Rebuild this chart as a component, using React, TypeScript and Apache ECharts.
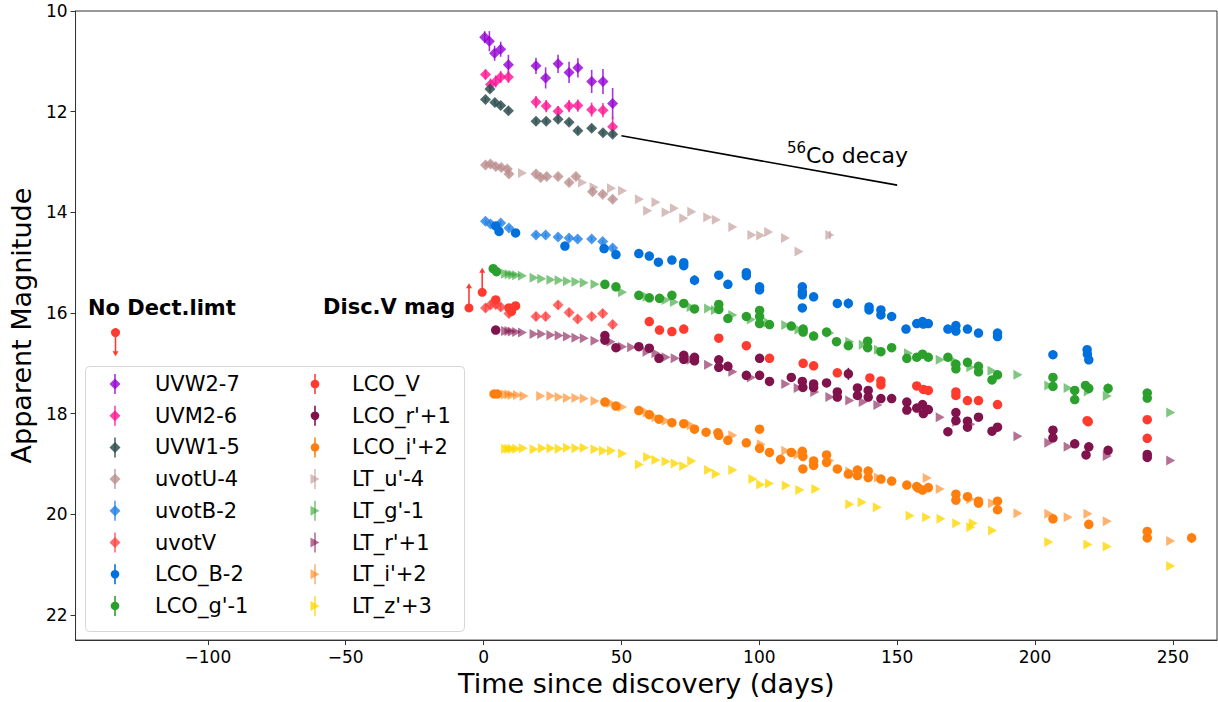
import React, { useEffect, useRef } from "react";
import * as echarts from "echarts";

// ---------- axis ticks ----------
const xTicks = [-100, -50, 0, 50, 100, 150, 200, 250];
const yTicks = [10, 12, 14, 16, 18, 20, 22];

// ---------- photometry: [days since discovery, magnitude, error?] ----------
const uvw2 = [[0.4,10.52,0.12],[2.1,10.6,0.2],[4.0,10.84,0.15],[6.2,10.76,0.15],[9.0,11.07,0.2],[19.0,11.09,0.16],[22.5,11.33,0.21],[27.0,11.05,0.18],[31.0,11.22,0.21],[34.2,11.13,0.19],[39.2,11.4,0.23],[43.3,11.4,0.25],[46.8,11.84,0.31]];
const uvm2 = [[0.7,11.26,0.1],[2.5,11.46,0.12],[4.4,11.4,0.12],[6.2,11.31,0.12],[9.0,11.31,0.12],[19.0,11.81,0.12],[22.7,11.89,0.12],[27.0,11.99,0.1],[31.0,11.89,0.12],[34.2,11.88,0.12],[39.2,11.96,0.14],[43.3,11.97,0.14],[46.8,12.3,0.2]];
const uvw1 = [[0.7,11.76,0.05],[2.3,11.55,0.06],[4.1,11.82,0.05],[6.2,11.88,0.05],[9.0,11.98,0.05],[19.0,12.19,0.05],[22.7,12.19,0.05],[27.0,12.15,0.05],[31.0,12.21,0.05],[34.2,12.38,0.05],[39.2,12.33,0.05],[43.3,12.42,0.05],[46.8,12.45,0.05]];
const uvotU = [[0.7,13.06,0.05],[2.5,13.04,0.05],[4.4,13.09,0.05],[6.4,13.11,0.05],[8.6,13.14,0.05],[9.2,13.24,0.05],[19.0,13.24,0.05],[20.7,13.31,0.05],[22.9,13.29,0.05],[27.0,13.29,0.05],[31.0,13.41,0.05],[33.5,13.29,0.05],[39.5,13.59,0.05],[43.2,13.64,0.05],[46.8,13.74,0.05]];
const uvotB = [[0.7,14.18,0.04],[2.5,14.23,0.04],[6.2,14.21,0.04],[9.2,14.31,0.04],[19.0,14.45,0.04],[22.5,14.45,0.04],[27.0,14.49,0.04],[31.0,14.51,0.04],[34.1,14.53,0.04],[39.2,14.53,0.04],[43.2,14.58,0.04],[46.8,14.71,0.05]];
const uvotV = [[0.7,15.9,0.08],[2.5,15.84,0.08],[4.4,15.83,0.08],[6.2,15.88,0.08],[9.2,16.01,0.08],[19.0,16.07,0.08],[22.5,16.07,0.08],[27.0,15.84,0.08],[31.0,15.99,0.08],[34.1,16.12,0.08],[39.2,16.07,0.08],[43.2,16.01,0.08],[46.8,16.23,0.08]];

const lcoB = [[4.4,14.27],[5.6,14.38],[11.6,14.41],[29.5,14.67],[43.7,14.72],[48.0,14.84],[56.3,14.82],[60.1,14.87],[63.4,14.99],[68.3,14.95],[72.6,15.0],[72.6,15.06],[76.5,15.35,0.1],[85.3,15.25],[88.6,15.43],[95.3,15.2],[95.3,15.26],[100.1,15.48,0.06],[100.1,15.54],[115.6,15.48],[115.6,15.58],[115.6,15.64],[115.6,15.9],[119.7,15.68],[128.3,15.81],[132.3,15.81,0.1],[139.8,15.88],[139.8,15.94],[144.1,15.94],[144.1,16.04],[148.0,16.07],[153.2,16.32],[157.1,16.21],[159.2,16.17],[159.5,16.22],[161.3,16.21],[168.4,16.32],[171.3,16.25],[171.3,16.36],[175.5,16.32],[179.5,16.4],[186.4,16.4],[186.4,16.47],[206.5,16.83,0.06],[218.9,16.73],[219.0,16.82],[219.5,16.93,0.05]];
const lcoG = [[3.5,15.12],[4.7,15.18],[44.0,15.43],[48.0,15.48],[56.3,15.65],[60.1,15.7],[63.8,15.71],[68.3,15.65],[72.6,15.81],[76.5,15.92],[85.3,15.83],[85.3,15.93],[88.6,16.11],[95.3,16.07],[100.1,15.95],[100.1,16.07],[100.1,16.21],[103.7,16.23],[111.6,16.26],[115.9,16.32],[115.9,16.38],[119.7,16.46],[124.4,16.38],[128.0,16.57],[132.3,16.65],[139.3,16.56],[139.3,16.69],[144.1,16.77],[148.0,16.69],[153.5,16.9],[157.1,16.88],[159.2,16.82],[161.3,16.88],[168.4,16.88],[171.3,17.02],[171.3,17.11],[175.5,16.98],[179.5,17.06],[179.5,17.17],[184.4,17.33],[186.4,17.23],[206.5,17.28],[206.5,17.46],[214.4,17.54,0.06],[214.4,17.72],[218.3,17.44],[219.5,17.5],[226.5,17.5,0.1],[240.7,17.59],[240.7,17.69]];
const lcoV = [[4.4,15.74],[9.2,15.9],[10.1,15.97],[11.6,15.86],[60.1,16.17],[63.8,16.34],[68.3,16.37],[72.6,16.32],[85.3,16.5],[95.3,16.65],[103.7,16.9],[115.9,17.0],[119.7,17.05],[128.3,17.19],[140.1,17.29],[144.1,17.35],[144.1,17.43],[157.1,17.45],[159.5,17.52],[161.3,17.54],[171.3,17.57],[171.3,17.64],[175.5,17.74],[179.5,17.74],[186.4,17.82],[218.9,18.14],[219.3,18.16],[240.7,18.12],[240.7,18.49]];
const lcoR = [[4.4,16.34],[44.0,16.45],[44.0,16.54],[48.0,16.69],[56.3,16.67],[60.1,16.7],[63.6,16.9],[72.6,16.84],[72.6,16.92],[76.5,16.88],[76.5,16.95],[85.3,16.93],[85.3,17.08],[88.6,17.06],[95.3,17.24],[100.1,16.9],[100.1,17.24],[103.7,17.36],[111.6,17.28],[115.6,17.36],[115.8,17.48],[119.7,17.41],[119.7,17.48],[124.4,17.39],[128.3,17.57],[128.3,17.67],[132.3,17.21,0.12],[135.6,17.49,0.08],[135.6,17.64],[139.5,17.54],[139.5,17.67],[144.1,17.7],[148.0,17.7],[153.5,17.77],[153.5,17.93],[157.1,17.89],[159.2,17.82],[159.5,18.0],[161.3,17.92],[168.4,18.36],[171.3,17.98],[171.3,18.14],[175.5,18.15],[175.5,18.27],[179.5,18.07],[184.4,18.35],[186.4,18.27],[206.5,18.33],[206.5,18.48],[214.4,18.6],[218.5,18.82],[219.5,18.66],[226.5,18.73],[240.7,18.81],[240.7,18.87]];
const lcoI = [[3.8,17.61],[5.0,17.61],[44.0,17.77],[48.0,17.85],[56.3,17.94],[60.1,18.02],[63.6,18.11],[68.3,18.18],[72.6,18.2],[76.5,18.31],[80.7,18.37],[85.0,18.38],[85.3,18.43],[88.6,18.53],[95.3,18.58],[100.1,18.31],[100.1,18.69],[103.7,18.77],[107.7,18.91,0.1],[111.6,18.77],[115.6,18.75],[115.8,18.85],[115.8,19.1],[119.7,18.94],[119.7,19.03],[124.4,18.82],[124.4,18.97],[128.3,19.1],[132.3,19.2],[135.6,19.12],[135.6,19.23],[139.5,19.14],[139.5,19.27],[144.1,19.3],[148.0,19.34],[153.5,19.42],[157.1,19.45],[157.7,19.48],[159.2,19.52],[161.3,19.47],[171.3,19.6],[171.3,19.72],[175.5,19.65],[179.5,19.74],[179.5,19.78],[186.4,19.74],[186.4,19.91],[206.5,20.09],[219.5,20.2],[240.7,20.34],[240.7,20.47],[256.8,20.47,0.1]];

const ltU = [[14.1,13.22],[35.9,13.41],[40.1,13.5],[46.4,13.52],[50.4,13.57],[56.5,13.74],[59.5,13.97],[62.5,13.8],[66.2,14.0],[69.2,13.92],[72.6,14.12],[75.5,13.99],[81.3,14.1],[84.4,14.15],[90.4,14.29],[97.3,14.45],[100.5,14.46],[103.4,14.39],[109.5,14.51],[114.4,14.78],[125.6,14.45,0.08]];
const ltG = [[8.0,15.22],[9.3,15.23],[10.6,15.24],[12.0,15.25],[14.1,15.26],[18.3,15.3],[21.1,15.32],[24.4,15.34],[27.4,15.35],[30.4,15.37],[33.5,15.38],[36.5,15.4],[40.4,15.43],[50.4,15.59],[59.3,15.68],[66.2,15.74],[69.2,15.78],[75.3,15.88],[81.6,15.91],[84.1,15.94],[90.4,16.04],[97.1,16.13],[103.2,16.19],[109.6,16.24],[114.4,16.33],[125.6,16.4],[132.8,16.57],[137.7,16.63],[143.2,16.73],[154.1,16.8],[165.6,16.93],[171.0,16.96],[176.7,17.08],[184.4,17.15],[193.8,17.23],[205.0,17.44],[212.0,17.49],[219.3,17.56],[226.2,17.65],[249.2,17.98]];
const ltR = [[8.0,16.36],[9.2,16.36],[10.4,16.37],[12.0,16.38],[14.1,16.39],[18.3,16.42],[21.1,16.42],[24.4,16.44],[27.4,16.45],[30.4,16.47],[33.5,16.49],[36.5,16.5],[40.4,16.55],[46.2,16.57],[50.4,16.67],[53.7,16.68],[59.3,16.77],[62.5,16.8],[66.2,16.88],[69.5,16.9],[75.3,16.93],[81.6,17.03],[90.4,17.17],[97.1,17.28],[109.6,17.41],[114.1,17.49],[120.1,17.57],[125.6,17.67],[132.8,17.74],[137.7,17.77],[143.0,17.83],[154.1,17.92],[165.6,18.07],[171.6,18.16],[176.7,18.21],[193.8,18.45],[205.0,18.58],[212.0,18.66],[226.2,18.84],[249.2,18.93]];
const ltI = [[8.0,17.62],[9.2,17.62],[10.4,17.63],[12.3,17.63],[14.7,17.65],[20.7,17.65],[24.4,17.65],[27.4,17.67],[30.4,17.69],[33.5,17.69],[36.5,17.7],[40.4,17.75],[46.2,17.79],[50.4,17.87],[59.3,17.98],[62.5,18.07],[66.2,18.14],[75.3,18.23],[90.4,18.43],[100.7,18.61],[109.6,18.74],[114.1,18.81],[125.6,18.93],[132.8,19.15],[143.2,19.27],[160.9,19.28],[165.6,19.5],[176.7,19.7],[184.6,19.78],[193.8,19.98],[205.0,19.99],[212.0,20.06],[219.2,19.99],[226.2,20.14],[249.2,20.53]];
const ltZ = [[8.0,18.7],[9.2,18.7],[10.4,18.7],[12.0,18.7],[14.4,18.69],[18.3,18.71],[21.3,18.69],[24.4,18.69],[27.4,18.7],[30.4,18.68],[33.5,18.69],[36.5,18.68],[40.4,18.71],[43.5,18.74],[46.4,18.74],[50.4,18.79],[56.5,19.01],[59.5,18.86],[62.5,18.92],[66.2,18.95],[69.5,18.99],[72.6,19.04],[75.5,18.94],[81.6,19.12],[84.4,19.2],[90.4,19.12],[97.7,19.3],[100.5,19.41],[103.7,19.39],[109.8,19.43],[114.7,19.52],[120.5,19.5],[132.8,19.8],[137.3,19.76],[142.8,19.86],[154.7,20.03],[160.7,20.06],[165.9,20.09],[171.6,20.18],[177.6,20.18],[176.7,20.26],[184.6,20.32],[205.0,20.55],[219.2,20.6],[226.2,20.64],[249.2,21.03]];

// limits: [day, magnitude, arrow tip magnitude]
const noDetectLimit = [[-133.5, 16.39, 16.86]];
const discoveryV = [[-5.3, 15.9, 15.41], [-0.5, 15.59, 15.1]];

// 56Co decay slope guide (0.98 mag / 100 d)
const coDecay = [[50, 12.48], [150, 13.46]];

// ---------- band styling ----------
type Shape = "diamond" | "circle" | "tri";
const bands: { name: string; data: number[][]; color: string; alpha: number; shape: Shape }[] = [
  { name: "UVW2-7", data: uvw2, color: "#9400d3", alpha: 0.8, shape: "diamond" },
  { name: "UVM2-6", data: uvm2, color: "#ff1493", alpha: 0.8, shape: "diamond" },
  { name: "UVW1-5", data: uvw1, color: "#2f4f4f", alpha: 0.85, shape: "diamond" },
  { name: "uvotU-4", data: uvotU, color: "#bc8f8f", alpha: 0.8, shape: "diamond" },
  { name: "uvotB-2", data: uvotB, color: "#1e7fe6", alpha: 0.8, shape: "diamond" },
  { name: "uvotV", data: uvotV, color: "#ff3b3b", alpha: 0.75, shape: "diamond" },
  { name: "LCO_B-2", data: lcoB, color: "#0070dd", alpha: 1, shape: "circle" },
  { name: "LCO_g'-1", data: lcoG, color: "#2ca02c", alpha: 1, shape: "circle" },
  { name: "LCO_V", data: lcoV, color: "#ff3b30", alpha: 1, shape: "circle" },
  { name: "LCO_r'+1", data: lcoR, color: "#80124c", alpha: 1, shape: "circle" },
  { name: "LCO_i'+2", data: lcoI, color: "#ff7f0e", alpha: 1, shape: "circle" },
  { name: "LT_u'-4", data: ltU, color: "#bc8f8f", alpha: 0.6, shape: "tri" },
  { name: "LT_g'-1", data: ltG, color: "#2ca02c", alpha: 0.6, shape: "tri" },
  { name: "LT_r'+1", data: ltR, color: "#80124c", alpha: 0.6, shape: "tri" },
  { name: "LT_i'+2", data: ltI, color: "#ff7f0e", alpha: 0.6, shape: "tri" },
  { name: "LT_z'+3", data: ltZ, color: "#ffd700", alpha: 0.8, shape: "tri" },
];

const FONT = "DejaVu Sans";
const TRI = "path://M0,0L10,5L0,10Z";
const limitColor = "#ff3b30";

function symbolFor(shape: Shape) {
  if (shape === "diamond") return { symbol: "diamond", symbolSize: 11 };
  if (shape === "circle") return { symbol: "circle", symbolSize: 9.5 };
  return { symbol: TRI, symbolSize: [9, 10] };
}

function errorSeries(color: string, alpha: number, data: number[][]) {
  return {
    type: "custom",
    dimensions: ["x", "y", "e"],
    data: data.filter((d) => d.length > 2),
    encode: { x: 0, y: 1 },
    silent: true,
    z: 2,
    renderItem: (_p: any, api: any) => {
      const x = api.value(0);
      const y = api.value(1);
      const e = api.value(2);
      const a = api.coord([x, y - e]);
      const b = api.coord([x, y + e]);
      return {
        type: "line",
        shape: { x1: a[0], y1: a[1], x2: b[0], y2: b[1] },
        style: { stroke: color, lineWidth: 1.6, opacity: alpha },
      };
    },
  };
}

function limitSeries(data: number[][]) {
  return {
    type: "custom",
    dimensions: ["x", "y", "tip"],
    data,
    encode: { x: 0, y: 1 },
    silent: true,
    z: 4,
    renderItem: (_p: any, api: any) => {
      const p = api.coord([api.value(0), api.value(1)]);
      const t = api.coord([api.value(0), api.value(2)]);
      const dir = t[1] > p[1] ? 1 : -1;
      return {
        type: "group",
        children: [
          {
            type: "line",
            shape: { x1: p[0], y1: p[1], x2: t[0], y2: t[1] - dir * 4 },
            style: { stroke: limitColor, lineWidth: 1.6 },
          },
          {
            type: "polygon",
            shape: { points: [[t[0] - 3, t[1] - dir * 5], [t[0] + 3, t[1] - dir * 5], [t[0], t[1]]] },
            style: { fill: limitColor },
          },
          { type: "circle", shape: { cx: p[0], cy: p[1], r: 4.5 }, style: { fill: limitColor } },
        ],
      };
    },
  };
}

// ---------- legend drawn as graphic elements ----------
function legendGraphics() {
  const els: any[] = [
    {
      type: "rect",
      shape: { x: 85.5, y: 366.5, width: 379, height: 265, r: 4 },
      style: { fill: "rgba(255,255,255,0.85)", stroke: "#d6d6d6", lineWidth: 1 },
      z: 10,
    },
  ];
  bands.forEach((b, i) => {
    const col = i < 8 ? 0 : 1;
    const row = col === 0 ? i : i - 8;
    const cx = col === 0 ? 115 : 315;
    const tx = col === 0 ? 155 : 352;
    const cy = 384 + row * 31.7;
    els.push({
      type: "line",
      shape: { x1: cx, y1: cy - 10, x2: cx, y2: cy + 10 },
      style: { stroke: b.color, lineWidth: 1.6, opacity: b.alpha },
      z: 11,
    });
    let marker: any;
    if (b.shape === "diamond") {
      marker = { type: "polygon", shape: { points: [[cx, cy - 5.5], [cx + 5.5, cy], [cx, cy + 5.5], [cx - 5.5, cy]] } };
    } else if (b.shape === "circle") {
      marker = { type: "circle", shape: { cx, cy, r: 4.3 } };
    } else {
      marker = { type: "polygon", shape: { points: [[cx - 4.5, cy - 5], [cx + 4.5, cy], [cx - 4.5, cy + 5]] } };
    }
    marker.style = { fill: b.color, opacity: b.alpha };
    marker.z = 11;
    els.push(marker);
    els.push({
      type: "text",
      x: tx,
      y: cy,
      style: { text: b.name, font: `21px '${FONT}'`, fill: "#000", textAlign: "left", textVerticalAlign: "middle" },
      z: 11,
    });
  });
  return els;
}

function buildOption() {
  const series: any[] = [];
  bands.forEach((b) => {
    if (b.data.some((d) => d.length > 2)) series.push(errorSeries(b.color, b.alpha, b.data));
    series.push({
      type: "scatter",
      name: b.name,
      data: b.data.map((d) => [d[0], d[1]]),
      ...symbolFor(b.shape),
      itemStyle: { color: b.color, opacity: b.alpha },
      silent: true,
      z: 3,
    });
  });
  series.push(limitSeries(noDetectLimit));
  series.push(limitSeries(discoveryV));
  series.push({
    type: "line",
    data: coDecay,
    symbol: "none",
    silent: true,
    lineStyle: { color: "#000", width: 1.6 },
    z: 5,
  });

  const minus = (v: number) => String(v).replace("-", "\u2212");

  return {
    animation: false,
    backgroundColor: "#fff",
    textStyle: { fontFamily: FONT },
    grid: { left: 73, top: 11, right: 1, bottom: 60, show: true, borderColor: "#333", borderWidth: 1 },
    xAxis: {
      type: "value",
      min: -148,
      max: 266,
      name: "Time since discovery (days)",
      nameLocation: "middle",
      nameGap: 27,
      nameTextStyle: { fontSize: 27, color: "#000", fontFamily: FONT },
      axisLine: { show: true, onZero: false, lineStyle: { color: "#333", width: 1 } },
      axisTick: { show: true, length: 5, customValues: xTicks, lineStyle: { color: "#333" } },
      axisLabel: { customValues: xTicks, fontSize: 17, color: "#000", margin: 8, fontFamily: FONT, formatter: minus },
      splitLine: { show: false },
    },
    yAxis: {
      type: "value",
      inverse: true,
      min: 10,
      max: 22.5,
      name: "Apparent Magnitude",
      nameLocation: "middle",
      nameGap: 36,
      nameTextStyle: { fontSize: 27, color: "#000", fontFamily: FONT },
      axisLine: { show: true, onZero: false, lineStyle: { color: "#333", width: 1 } },
      axisTick: { show: true, length: 5, customValues: yTicks, lineStyle: { color: "#333" } },
      axisLabel: { customValues: yTicks, fontSize: 17, color: "#000", margin: 8, fontFamily: FONT },
      splitLine: { show: false },
    },
    graphic: [
      {
        type: "text",
        x: 88,
        y: 307.5,
        style: { text: "No Dect.limt", font: `bold 21px '${FONT}'`, fill: "#000", textVerticalAlign: "middle" },
      },
      {
        type: "text",
        x: 323,
        y: 307,
        style: { text: "Disc.V mag", font: `bold 21px '${FONT}'`, fill: "#000", textVerticalAlign: "middle" },
      },
      {
        type: "text",
        x: 787,
        y: 148,
        style: { text: "56", font: `15px '${FONT}'`, fill: "#000", textVerticalAlign: "middle" },
      },
      {
        type: "text",
        x: 806,
        y: 155,
        style: { text: "Co decay", font: `22px '${FONT}'`, fill: "#000", textVerticalAlign: "middle" },
      },
      ...legendGraphics(),
    ],
    series,
  };
}

export default function App() {
  const ref = useRef<HTMLDivElement>(null);
  useEffect(() => {
    if (!ref.current) return;
    const chart = echarts.init(ref.current, null, { renderer: "svg" });
    chart.setOption(buildOption() as any);
    return () => chart.dispose();
  }, []);
  return (
    <div
      ref={ref}
      style={{ position: "absolute", left: 0, top: 0, width: 1218, height: 702, background: "#fff" }}
    />
  );
}
